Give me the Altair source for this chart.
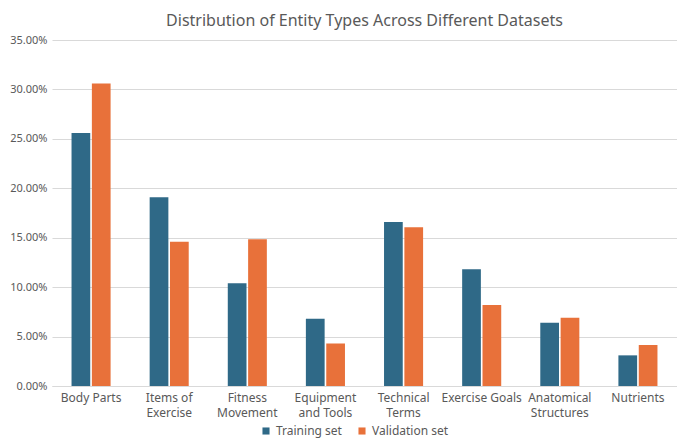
import altair as alt
import pandas as pd

categories = ["Body Parts", "Items of|Exercise", "Fitness|Movement", "Equipment|and Tools",
              "Technical|Terms", "Exercise Goals", "Anatomical|Structures", "Nutrients"]
training = [0.256, 0.191, 0.104, 0.068, 0.166, 0.118, 0.064, 0.031]
validation = [0.306, 0.146, 0.1485, 0.043, 0.1605, 0.082, 0.069, 0.0415]
series = ["Training set", "Validation set"]
colors = ["#2F6987", "#E8713A"]

rows = []
for c, t, v in zip(categories, training, validation):
    rows.append({"cat": c, "set": series[0], "val": t})
    rows.append({"cat": c, "set": series[1], "val": v})
df = pd.DataFrame(rows)

FONT = "Noto Sans"
GRAY = "#595959"

chart = alt.Chart(df).mark_bar().encode(
    x=alt.X("cat:N", sort=categories, title=None,
            scale=alt.Scale(paddingInner=0.5, paddingOuter=0.25),
            axis=alt.Axis(labelAngle=0, ticks=False, domainColor="#D9D9D9",
                          labelExpr="split(datum.label, '|')", labelPadding=6,
                          labelFontSize=12, labelColor=GRAY, labelFont=FONT,
                          labelLineHeight=15)),
    xOffset=alt.XOffset("set:N", sort=series, scale=alt.Scale(paddingInner=0.08)),
    y=alt.Y("val:Q", title=None,
            scale=alt.Scale(domain=[0, 0.35]),
            axis=alt.Axis(format=".2%", values=[0, 0.05, 0.1, 0.15, 0.2, 0.25, 0.3, 0.35],
                          ticks=False, domain=False, gridColor="#D9D9D9",
                          labelColor=GRAY, labelFont=FONT, labelFontSize=11,
                          labelPadding=5)),
    color=alt.Color("set:N", sort=series,
                    scale=alt.Scale(domain=series, range=colors),
                    legend=alt.Legend(title=None, orient="none", direction="horizontal",
                                      legendX=208, legendY=385, symbolType="square",
                                      symbolSize=50, labelFontSize=12, labelColor=GRAY,
                                      labelFont=FONT, columnPadding=14, symbolStrokeWidth=0)),
).properties(
    width=625, height=346,
    title=alt.TitleParams("Distribution of Entity Types Across Different Datasets",
                          fontSize=16, font=FONT, fontWeight="normal", color=GRAY,
                          offset=5, anchor="middle"),
    autosize=alt.AutoSizeParams(type="none"),
    padding={"left": 44, "top": 32, "right": 0, "bottom": 52},
).configure_view(stroke=None)

chart.save("out.html", embed_options={"renderer": "svg", "actions": False})
